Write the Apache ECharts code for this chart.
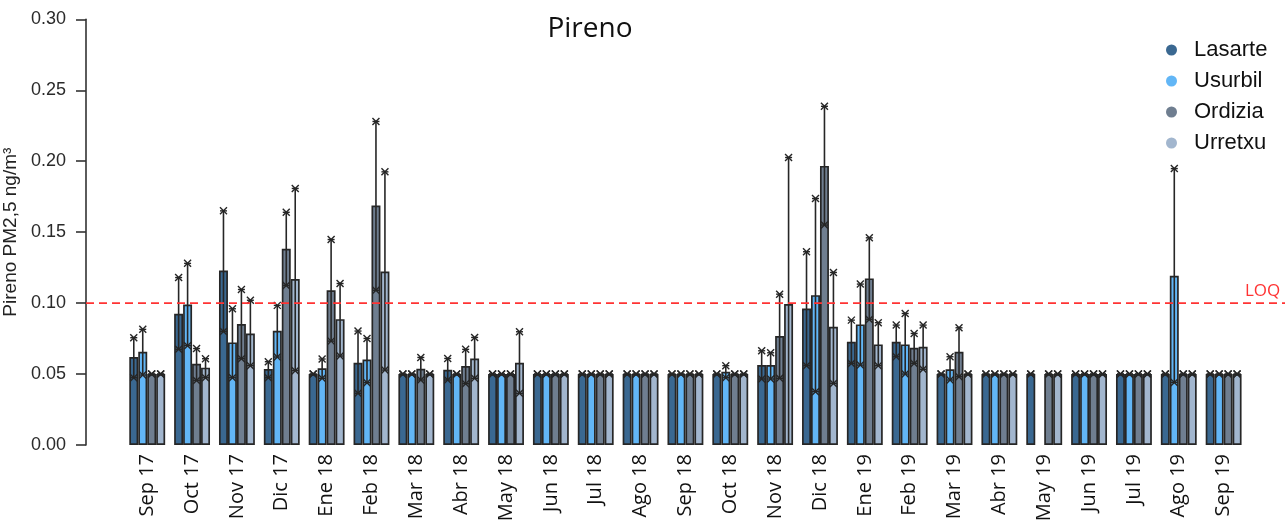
<!DOCTYPE html>
<html>
<head>
<meta charset="utf-8">
<script src="https://cdn.jsdelivr.net/npm/echarts@6/dist/echarts.min.js"></script>
<style>
  html, body { margin: 0; padding: 0; background: #fff; }
  #chart { width: 1288px; height: 523px; }
</style>
</head>
<body>
<div id="chart"></div>
<script>
// Monthly pyrene (PM2.5) means with min/max ranges per station
const months = ['Sep 17','Oct 17','Nov 17','Dic 17','Ene 18','Feb 18','Mar 18','Abr 18','May 18','Jun 18','Jul 18','Ago 18','Sep 18','Oct 18','Nov 18','Dic 18','Ene 19','Feb 19','Mar 19','Abr 19','May 19','Jun 19','Jul 19','Ago 19','Sep 19'];
const stations = ['Lasarte', 'Usurbil', 'Ordizia', 'Urretxu'];
const colors = ['#3A6891', '#62B6F6', '#6F7E90', '#A2B6CE'];

const lasarteMean = [0.062,0.0925,0.123,0.0535,0.05,0.058,0.05,0.053,0.05,0.05,0.05,0.05,0.05,0.05,0.0563,0.0962,0.0728,0.0728,0.05,0.05,0.05,0.05,0.05,0.05,0.05];
const lasarteMax  = [0.0756,0.118,0.165,0.0587,0.05,0.0803,0.05,0.061,0.05,0.05,0.05,0.05,0.05,0.05,0.0664,0.1362,0.088,0.0845,0.05,0.05,0.05,0.05,0.05,0.05,0.05];
const lasarteMin  = [0.0474,0.0674,0.080,0.0474,0.05,0.0364,0.05,0.0458,0.05,0.05,0.05,0.05,0.05,0.05,0.0465,0.0559,0.0575,0.0622,0.05,0.05,0.05,0.05,0.05,0.05,0.05];

const usurbilMean = [0.0657,0.099,0.0723,0.0805,0.054,0.0603,0.05,0.05,0.05,0.05,0.05,0.05,0.05,0.0516,0.0563,0.1056,0.085,0.0709,0.0533,0.05,null,0.05,0.05,0.1192,0.05];
const usurbilMax  = [0.0815,0.128,0.096,0.0984,0.0606,0.0751,0.05,0.05,0.05,0.05,0.05,0.05,0.05,0.0559,0.065,0.1737,0.1134,0.0927,0.0622,0.05,null,0.05,0.05,0.1948,0.05];
const usurbilMin  = [0.0493,0.070,0.0474,0.062,0.047,0.0439,0.05,0.05,0.05,0.05,0.05,0.05,0.05,0.0474,0.0465,0.0376,0.0563,0.05,0.0458,0.05,null,0.05,0.05,0.0441,0.05];

const ordiziaMean = [0.05,0.0573,0.0852,0.1383,0.109,0.1688,0.0537,0.0556,0.05,0.05,0.05,0.05,0.05,0.05,0.0768,0.1967,0.1174,0.0685,0.0657,0.05,0.05,0.05,0.05,0.05,0.05];
const ordiziaMax  = [0.05,0.068,0.1096,0.164,0.1448,0.228,0.0617,0.0674,0.05,0.05,0.05,0.05,0.05,0.05,0.1063,0.2387,0.146,0.0786,0.0826,0.05,0.05,0.05,0.05,0.05,0.05];
const ordiziaMin  = [0.05,0.0455,0.0608,0.1124,0.0732,0.109,0.0458,0.0432,0.05,0.05,0.05,0.05,0.05,0.05,0.047,0.155,0.0885,0.0575,0.0481,0.05,0.05,0.05,0.05,0.05,0.05];

const urretxuMean = [0.05,0.0545,0.0786,0.1169,0.0887,0.1223,0.05,0.061,0.058,0.05,0.05,0.05,0.05,0.05,0.0993,0.0833,0.0709,0.0692,0.05,0.05,0.05,0.05,0.05,0.05,0.05];
const urretxuMax  = [0.05,0.0608,0.102,0.1808,0.1138,0.1925,0.05,0.0758,0.0798,0.05,0.05,0.05,0.05,0.05,0.2026,0.1216,0.0862,0.0845,0.05,0.05,0.05,0.05,0.05,0.05,0.05];
const urretxuMin  = [0.05,0.0474,0.0559,0.0524,0.0627,0.0528,0.05,0.047,0.0364,0.05,0.05,0.05,0.05,0.05,0.0,0.0434,0.0559,0.0533,0.05,0.05,0.05,0.05,0.05,0.05,0.05];

const yTicks = [0, 0.05, 0.10, 0.15, 0.20, 0.25, 0.30];
const LOQ = 0.10;

const means = [lasarteMean, usurbilMean, ordiziaMean, urretxuMean];
const maxs  = [lasarteMax, usurbilMax, ordiziaMax, urretxuMax];
const mins  = [lasarteMin, usurbilMin, ordiziaMin, urretxuMin];

const GRID_TOP = 19.3, GRID_BOTTOM = 78;
const BAR_GAP = 0.2; // fraction of each month band left empty
const INK = '#262626';

// small asterisk-like end marker for the range whiskers
function endMark(x, y) {
  const s = 3.5;
  const st = { stroke: INK, lineWidth: 1.4 };
  return [
    { type: 'line', shape: { x1: x - s, y1: y, x2: x + s, y2: y }, style: st },
    { type: 'line', shape: { x1: x - s, y1: y - s, x2: x + s, y2: y + s }, style: st },
    { type: 'line', shape: { x1: x - s, y1: y + s, x2: x + s, y2: y - s }, style: st }
  ];
}

function rangeSeries(k) {
  const data = [];
  months.forEach((m, i) => {
    if (means[k][i] !== null) data.push([i, mins[k][i], maxs[k][i]]);
  });
  return {
    type: 'custom',
    name: stations[k] + ' rango',
    xAxisIndex: 0, yAxisIndex: 0,
    z: 5,
    silent: true,
    encode: { x: 0, y: [1, 2] },
    data: data,
    renderItem: function (params, api) {
      const idx = api.value(0);
      const lo = api.coord([idx, api.value(1)]);
      const hi = api.coord([idx, api.value(2)]);
      const band = api.size([1, 0])[0];
      const bw = band * (1 - BAR_GAP) / 4;
      const x = lo[0] + (k - 1.5) * bw;
      const children = [
        { type: 'line', shape: { x1: x, y1: lo[1], x2: x, y2: hi[1] },
          style: { stroke: INK, lineWidth: 1.6 } }
      ];
      if (api.value(1) > 0) children.push(...endMark(x, lo[1]));
      children.push(...endMark(x, hi[1]));
      return { type: 'group', children: children };
    }
  };
}

const barSeries = stations.map((s, k) => ({
  type: 'bar',
  name: s,
  xAxisIndex: 0, yAxisIndex: 0,
  data: means[k],
  barGap: '0%',
  barCategoryGap: (BAR_GAP * 100) + '%',
  itemStyle: { color: colors[k], borderColor: INK, borderWidth: 1.7 },
  emphasis: { disabled: true }
}));

const chart = echarts.init(document.getElementById('chart'), null, { renderer: 'canvas' });

chart.setOption({
  animation: false,
  backgroundColor: '#ffffff',
  title: {
    text: 'Pireno',
    left: 585, top: 10,
    textAlign: 'center',
    textStyle: { fontFamily: 'Open Sans', fontSize: 28, fontWeight: 'normal', color: '#111' }
  },
  legend: {
    orient: 'vertical',
    left: 1161, top: 34,
    icon: 'circle',
    itemWidth: 11, itemHeight: 11,
    itemGap: 9,
    itemStyle: { borderWidth: 0 },
    data: stations,
    textStyle: {
      fontFamily: 'Liberation Sans', fontSize: 22, color: '#111',
      lineHeight: 22, padding: [0, 0, 0, 12]
    }
  },
  grid: [
    { left: 124.8, width: 1121.25, top: GRID_TOP, bottom: GRID_BOTTOM, outerBoundsMode: 'none', containLabel: false },
    { left: 86, right: 3, top: GRID_TOP, bottom: GRID_BOTTOM, outerBoundsMode: 'none', containLabel: false }
  ],
  xAxis: [
    {
      type: 'category', gridIndex: 0, data: months,
      axisLine: { show: false }, axisTick: { show: false },
      axisLabel: {
        rotate: 90, margin: 9, interval: 0,
        fontFamily: 'Open Sans', fontSize: 20, color: '#111'
      }
    },
    { type: 'value', gridIndex: 1, min: 0, max: 1, show: false }
  ],
  yAxis: [
    { type: 'value', gridIndex: 0, min: 0, max: 0.3, show: false },
    {
      type: 'value', gridIndex: 1, min: yTicks[0], max: yTicks[yTicks.length - 1], interval: 0.05,
      name: 'Pireno PM2,5 ng/m³',
      nameLocation: 'middle', nameRotate: 90, nameGap: 61,
      nameTextStyle: { fontFamily: 'Liberation Sans', fontSize: 19, color: '#222' },
      axisLine: { show: true, lineStyle: { color: '#333', width: 1.6 } },
      axisTick: { show: true, length: 10, lineStyle: { color: '#333', width: 1.6 } },
      splitLine: { show: false },
      axisLabel: {
        margin: 20, fontFamily: 'Liberation Sans', fontSize: 18, color: '#2a2a2a',
        formatter: v => v.toFixed(2)
      }
    }
  ],
  series: [
    ...barSeries,
    ...stations.map((s, k) => rangeSeries(k)),
    {
      type: 'line',
      name: 'LOQ',
      xAxisIndex: 1, yAxisIndex: 1,
      silent: true,
      symbol: 'none',
      z: 6,
      lineStyle: { color: '#FF3333', width: 1.6, type: [8, 5] },
      data: [[0, LOQ], [1, LOQ]],
      endLabel: {
        show: true, formatter: 'LOQ', distance: 0, offset: [-40, -12],
        fontFamily: 'Open Sans', fontSize: 17, color: '#FF3333'
      }
    }
  ]
});
</script>
</body>
</html>
